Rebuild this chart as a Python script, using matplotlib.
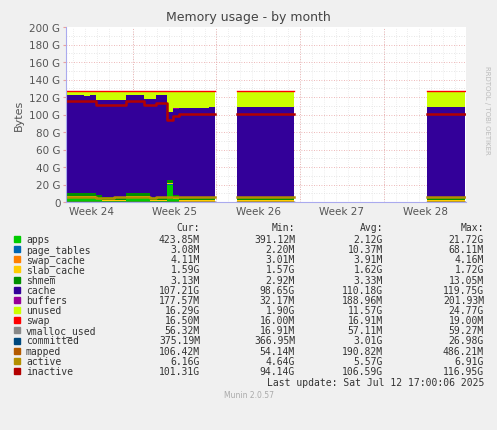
import numpy as np
import matplotlib
matplotlib.use("Agg")
import matplotlib.pyplot as plt

# sample times in days (0.5-day step), three recorded segments
t1 = [i * 0.5 for i in range(26)]
t2 = [14.3, 14.5, 15, 15.5, 16, 16.5, 17, 17.5, 18, 18.5, 19.1]
t3 = [30.2, 30.5, 31, 31.5, 32, 32.5, 33, 33.4]

# top of the cache+buffers band (G)
ptop1 = [122, 122, 122, 121, 122, 117, 117, 117, 117, 117, 122, 122, 122, 118, 118,
         122, 122, 103, 107, 108, 108, 108, 108, 108, 109, 109]
ptop2 = [109] * 11
ptop3 = [109] * 8
# inactive line (G)
inact1 = [115, 115, 116, 116, 115, 111, 111, 111, 111, 111, 115, 115, 115, 111, 111,
          113, 113, 94, 98, 101, 101, 101, 101, 101, 101, 101]
inact2 = [101] * 11
inact3 = [101] * 8
# apps (G)
apps1 = [5, 5, 5, 5, 5, 3, 1, 1, 1, 1, 5, 5, 5, 5, 1, 1, 1, 20, 3, 0.4, 0.4, 0.4, 0.4, 0.4, 0.4, 0.4]
apps2 = [0.4] * 11
apps3 = [0.4] * 8
# active line (G)
act1 = [6, 6, 6, 6, 6, 4.7, 4.7, 4.7, 6, 6, 6, 6, 6, 6, 4.7, 6, 6, 6, 6, 6.2, 6.2, 6.2, 6.2, 6.2, 6.2, 6.2]
act2 = [6.2] * 11
act3 = [6.2] * 8
total_top = 126.3

page_tables = 0.01
swap_cache = 0.004
slab_cache = 1.6
shmem = 3.3
buffers = 0.18
swap = 0.0165
vmalloc = 0.057
committed = 0.375
mapped = 0.106

names = ["apps", "page_tables", "swap_cache", "slab_cache", "shmem", "cache", "buffers",
         "unused", "swap", "vmalloc_used", "committed", "mapped", "active", "inactive"]
colors = ["#00CC00", "#0066B3", "#FF8000", "#FFCC00", "#008F00", "#330099", "#990099",
          "#CCFF00", "#FF0000", "#888888", "#00487D", "#B35A00", "#B38F00", "#B30000"]
cur = ["423.85M", "3.08M", "4.11M", "1.59G", "3.13M", "107.21G", "177.57M", "16.29G", "16.50M", "56.32M", "375.19M", "106.42M", "6.16G", "101.31G"]
mn = ["391.12M", "2.20M", "3.01M", "1.57G", "2.92M", "98.65G", "32.17M", "1.90G", "16.00M", "16.91M", "366.95M", "54.14M", "4.64G", "94.14G"]
av = ["2.12G", "10.37M", "3.91M", "1.62G", "3.33M", "110.18G", "188.96M", "11.57G", "16.91M", "57.11M", "3.01G", "190.82M", "5.57G", "106.59G"]
mx = ["21.72G", "68.11M", "4.16M", "1.72G", "13.05M", "119.75G", "201.93M", "24.77G", "19.00M", "59.27M", "26.98G", "486.21M", "6.91G", "116.95G"]

def join(a, b, c):
    return np.array(list(a) + [np.nan] + list(b) + [np.nan] + list(c), float)

t = join(t1, t2, t3)
ptop = join(ptop1, ptop2, ptop3)
inact = join(inact1, inact2, inact3)
apps = join(apps1, apps2, apps3)
act = join(act1, act2, act3)
ones = np.where(np.isnan(t), np.nan, 1.0)

small = [apps, page_tables * ones, swap_cache * ones, slab_cache * ones, shmem * ones]
base_sum = sum(small)
cache = ptop - buffers - base_sum
unused = total_top - ptop
layers = small + [cache, buffers * ones, unused, swap * ones]

fig = plt.figure(figsize=(4.97, 4.31), dpi=100, facecolor="#F0F0F0")
ax = fig.add_axes([66 / 497, 1 - 203 / 431, 400 / 497, 175 / 431])
ax.set_facecolor("white")
ax.set_xlim(0, 33.5)
ax.set_ylim(0, 200)

bottom = np.zeros_like(t)
for arr, c in zip(layers, colors[:9]):
    ax.fill_between(t, bottom, bottom + arr, color=c, lw=0, step="post")
    bottom = bottom + arr
ax.step(t, bottom, where="post", color="#FF0000", lw=1)
for v, c in zip([vmalloc * ones, committed * ones, mapped * ones, act, inact], colors[9:]):
    ax.step(t, v, where="post", color=c, lw=1.8 if c in ("#B38F00", "#B30000") else 1)

ticks = [5.6, 12.6, 19.6, 26.6]
for x in np.arange(0.6, 33.5, 1.0):
    ax.axvline(x, color="#dddddd", lw=0.5, ls=(0, (1, 2)), zorder=0)
for x in ticks:
    ax.axvline(x, color="#e8a0a0", lw=0.6, ls=(0, (1, 2)), zorder=0)
for y in range(10, 200, 10):
    ax.axhline(y, color="#e8a0a0" if y % 20 == 0 else "#dddddd", lw=0.6, ls=(0, (1, 2)), zorder=0)
ax.set_xticks([2.1, 9.1, 16.1, 23.1, 30.1])
ax.set_xticklabels(["Week 24", "Week 25", "Week 26", "Week 27", "Week 28"], fontsize=7.5, color="#555555")
ax.tick_params(axis="x", length=0, pad=3)
ax.set_yticks(range(0, 201, 20))
ax.set_yticklabels(["0"] + [f"{v} G" for v in range(20, 201, 20)], fontsize=7.5, color="#555555")
ax.tick_params(axis="y", length=2, color="#e8a0a0", pad=2)
for s in ["top", "right"]:
    ax.spines[s].set_visible(False)
for s in ["left", "bottom"]:
    ax.spines[s].set_color("#aaaaee")
ax.set_ylabel("Bytes", fontsize=8, color="#555555")
fig.text(0.5, 1 - 18 / 431, "Memory usage - by month", ha="center", va="center", fontsize=9, color="#444444")
fig.text(487 / 497, 1 - 110 / 431, "RRDTOOL / TOBI OETIKER", rotation=270, ha="center", va="center", fontsize=5, color="#bbbbbb")

fs = 7
def fy(p):
    return 1 - p / 431
for lbl, xr in zip(["Cur:", "Min:", "Avg:", "Max:"], [200, 295, 383, 484]):
    fig.text(xr / 497, fy(228), lbl, ha="right", va="center", fontsize=fs, color="#333333", family="DejaVu Sans Mono")
for i, n in enumerate(names):
    y = fy(240 + i * 10.15)
    fig.patches.append(plt.Rectangle((14 / 497, y - 3 / 431), 6 / 497, 6 / 431, transform=fig.transFigure, color=colors[i]))
    fig.text(26 / 497, y, n, ha="left", va="center", fontsize=fs, color="#333333", family="DejaVu Sans Mono")
    for vals, xr in zip([cur, mn, av, mx], [200, 295, 383, 484]):
        fig.text(xr / 497, y, vals[i], ha="right", va="center", fontsize=fs, color="#333333", family="DejaVu Sans Mono")
fig.text(484 / 497, fy(383), "Last update: Sat Jul 12 17:00:06 2025", ha="right", va="center", fontsize=fs, color="#333333", family="DejaVu Sans Mono")
fig.text(0.5, fy(396), "Munin 2.0.57", ha="center", va="center", fontsize=5.5, color="#aaaaaa")
fig.savefig("out.png", dpi=100, facecolor=fig.get_facecolor())
